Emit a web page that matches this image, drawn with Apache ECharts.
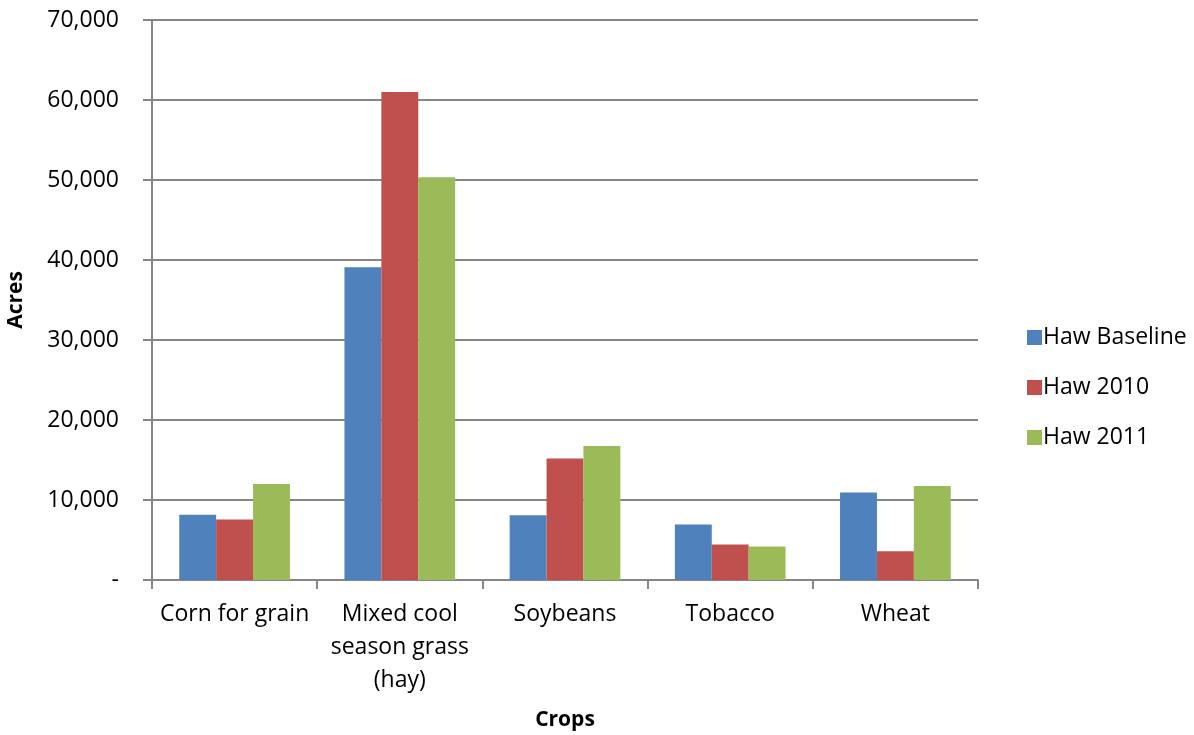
<!DOCTYPE html>
<html><head><meta charset="utf-8">
<script src="https://cdn.jsdelivr.net/npm/echarts@6/dist/echarts.min.js"></script>
<style>html,body{margin:0;padding:0;background:#fff}#c{width:1194px;height:735px}</style>
</head><body><div id="c"></div>
<script>
const categories = ['Corn for grain', 'Mixed cool\nseason grass\n(hay)', 'Soybeans', 'Tobacco', 'Wheat'];
const seriesNames = ['Haw Baseline', 'Haw 2010', 'Haw 2011'];
const hawBaseline = [8150, 39100, 8100, 6950, 10950];
const haw2010 = [7550, 61000, 15200, 4450, 3600];
const haw2011 = [12000, 50350, 16750, 4200, 11750];
const colors = ['#4F81BD', '#C0504D', '#9BBB59'];
const FONT = 'Open Sans';
const FS = 23;
const chart = echarts.init(document.getElementById('c'));
const values = [hawBaseline, haw2010, haw2011];
chart.setOption({
  animation: false,
  textStyle: {fontFamily: FONT},
  grid: {left: 152, right: 216, top: 20, bottom: 155, containLabel: false, outerBoundsMode: 'none'},
  legend: {
    orient: 'vertical', left: 1022, top: 321, itemWidth: 15, itemHeight: 15, itemGap: 27,
    icon: 'rect',
    textStyle: {fontFamily: FONT, fontSize: FS, color: '#000', padding: [0, 0, 0, -4]},
    data: seriesNames
  },
  xAxis: {
    type: 'category', data: categories,
    name: 'Crops', nameLocation: 'middle', nameGap: 130,
    nameTextStyle: {fontFamily: FONT, fontSize: 21, fontWeight: 'bold', color: '#000'},
    axisLine: {lineStyle: {color: '#868686', width: 2}},
    axisTick: {show: true, length: 9, lineStyle: {color: '#868686', width: 2}},
    axisLabel: {fontFamily: FONT, fontSize: FS, color: '#000', margin: 18, lineHeight: 33, interval: 0}
  },
  yAxis: {
    type: 'value', min: 0, max: 70000, interval: 10000,
    name: 'Acres', nameLocation: 'middle', nameGap: 125, nameRotate: 90,
    nameTextStyle: {fontFamily: FONT, fontSize: 21, fontWeight: 'bold', color: '#000'},
    axisLine: {show: true, lineStyle: {color: '#868686', width: 2}},
    axisTick: {show: true, length: 9, lineStyle: {color: '#868686', width: 2}},
    splitLine: {lineStyle: {color: '#868686', width: 2}},
    axisLabel: {
      fontFamily: FONT, fontSize: FS, color: '#000', margin: 33,
      formatter: v => v === 0 ? '-' : v.toLocaleString('en-US')
    }
  },
  series: seriesNames.map((n, i) => ({
    name: n, type: 'bar', data: values[i], barGap: '0%', barCategoryGap: '33%',
    itemStyle: {color: colors[i]}
  }))
});
</script></body></html>
